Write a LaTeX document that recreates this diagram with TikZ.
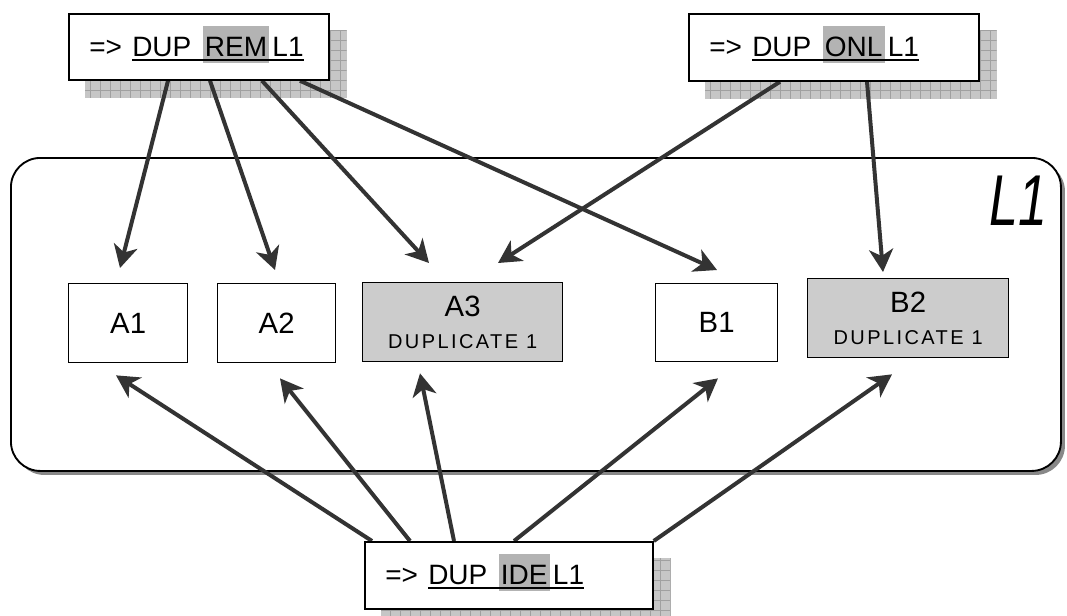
\documentclass[tikz,border=0pt]{standalone}
\usepackage{fontspec}
\usepackage{graphicx}
\setmainfont{Liberation Sans}
\usetikzlibrary{arrows.meta,calc,shadows}
\pgfdeclarelayer{bg}
\pgfdeclarelayer{fg}
\pgfsetlayers{bg,main,fg}
\definecolor{arrowc}{HTML}{333333}
\definecolor{hlc}{HTML}{B3B3B3}
\definecolor{boxgrey}{HTML}{CCCCCC}
\definecolor{shadowc}{HTML}{C6C6C6}
\definecolor{gridc}{HTML}{A0A0A0}
\definecolor{contshadow}{HTML}{888888}
\newsavebox\ulsave
\newcommand\ulbox[1]{\sbox\ulsave{#1}\usebox\ulsave\llap{\rule[-4pt]{\wd\ulsave}{1.4pt}}}
\newcommand\hlbox[1]{{\setlength\fboxsep{0pt}\colorbox{hlc}{\rule[-5.25pt]{0pt}{27.75pt}\kern1.5pt #1\kern1.5pt}}}
\newcommand\cmdtext[1]{\makebox[32.25pt][l]{=>}\ulbox{\makebox[53pt][l]{DUP}\hlbox{#1}\kern2.5pt L1}}
\newcommand\dupl[1]{#1\\\fontsize{15pt}{20pt}\selectfont\addfontfeature{LetterSpace=12}DUPLICATE 1}
\newcommand\shadowof[1]{%
  \fill[shadowc] ($(#1.north west)+(17,17)$) rectangle ($(#1.south east)+(17,17)$);
  \begin{scope}
    \clip ($(#1.north west)+(17,17)$) rectangle ($(#1.south east)+(17,17)$);
    \draw[gridc,line width=0.5pt,step=7.5pt] ($(#1.north west)+(10,10)$) grid ($(#1.south east)+(25,25)$);
  \end{scope}}
\tikzset{
  cmdbox/.style={draw, line width=1.3pt, fill=white, inner sep=0pt, anchor=north west},
  cmdlabel/.style={anchor=base west, inner sep=0pt, font=\fontsize{21pt}{24pt}\selectfont},
  ibox/.style={draw, line width=1pt, fill=white, inner sep=0pt, anchor=north west, align=center,
    font=\fontsize{22pt}{24pt}\selectfont},
  dupbox/.style={ibox, fill=boxgrey},
  container/.style={draw, line width=1.4pt, fill=white, rounded corners=22pt, inner sep=0pt, anchor=north west,
    drop shadow={shadow xshift=3pt, shadow yshift=-3pt, fill=contshadow, opacity=1}},
  conn/.style={draw=arrowc, line width=3pt, -{Stealth[length=17pt,width=18pt,inset=5pt]}}
}
\begin{document}
\begin{tikzpicture}[x=0.75pt,y=-0.75pt]
\useasboundingbox (0,0) rectangle (1067,615);
% container
\begin{pgfonlayer}{bg}
\node[container, minimum width=787.5pt, minimum height=234.75pt] (L) at (10,157) {};
\end{pgfonlayer}
\node[inner sep=0pt, font=\fontsize{54pt}{54pt}\selectfont\itshape] (Ltitle) at (1018,201) {\scalebox{0.72}[1]{L1}};
% inner boxes
\node[ibox, minimum width=89.25pt, minimum height=59.25pt] (A1) at (68,283) {A1};
\node[ibox, minimum width=88.5pt, minimum height=59.25pt] (A2) at (217,283) {A2};
\node[dupbox, minimum width=150pt, minimum height=59.25pt] (A3) at (362,282) {\dupl{A3}};
\node[ibox, minimum width=91.5pt, minimum height=58.5pt] (B1) at (655,283) {B1};
\node[dupbox, minimum width=150.75pt, minimum height=59.25pt] (B2) at (807,278) {\dupl{B2}};
% command boxes
\begin{pgfonlayer}{fg}
\node[cmdbox, minimum width=195pt, minimum height=49.5pt] (tl) at (68,13) {};
\node[cmdbox, minimum width=217.5pt, minimum height=50.25pt] (tr) at (688,13) {};
\node[cmdbox, minimum width=216pt, minimum height=50.25pt] (bt) at (364,541) {};
\node[cmdlabel] (tltext) at ($(tl.north west)+(21,43)$) {\cmdtext{REM}};
\node[cmdlabel] (trtext) at ($(tr.north west)+(21,43)$) {\cmdtext{ONL}};
\node[cmdlabel] (bttext) at ($(bt.north west)+(21,43)$) {\cmdtext{IDE}};
\end{pgfonlayer}
\begin{pgfonlayer}{bg}
\shadowof{tl}
\shadowof{tr}
\shadowof{bt}
\end{pgfonlayer}
% connectors from top-left
\draw[conn] ($(tl.south west)+(100,0)$) -- ($(A1.north west)+(52,-15)$);
\draw[conn] ($(tl.south west)+(142,0)$) -- ($(A2.north west)+(58,-13)$);
\draw[conn] ($(tl.south west)+(194,0)$) -- ($(A3.north west)+(67,-19)$);
\draw[conn] ($(tl.south west)+(232,0)$) -- ($(B1.north west)+(62,-13)$);
% connectors from top-right
\draw[conn] ($(tr.south west)+(92,0)$) -- ($(A3.north west)+(136,-19)$);
\draw[conn] ($(tr.south west)+(179,0)$) -- ($(B2.north west)+(76,-6)$);
% connectors from bottom
\draw[conn] ($(bt.north west)+(8,0)$) -- ($(A1.south west)+(48,12)$);
\draw[conn] ($(bt.north west)+(46,0)$) -- ($(A2.south west)+(63,15)$);
\draw[conn] ($(bt.north west)+(90,0)$) -- ($(A3.south west)+(58,11)$);
\draw[conn] ($(bt.north west)+(150,0)$) -- ($(B1.south west)+(63,16)$);
\draw[conn] (bt.north east) -- ($(B2.south west)+(85,16)$);
\end{tikzpicture}
\end{document}
